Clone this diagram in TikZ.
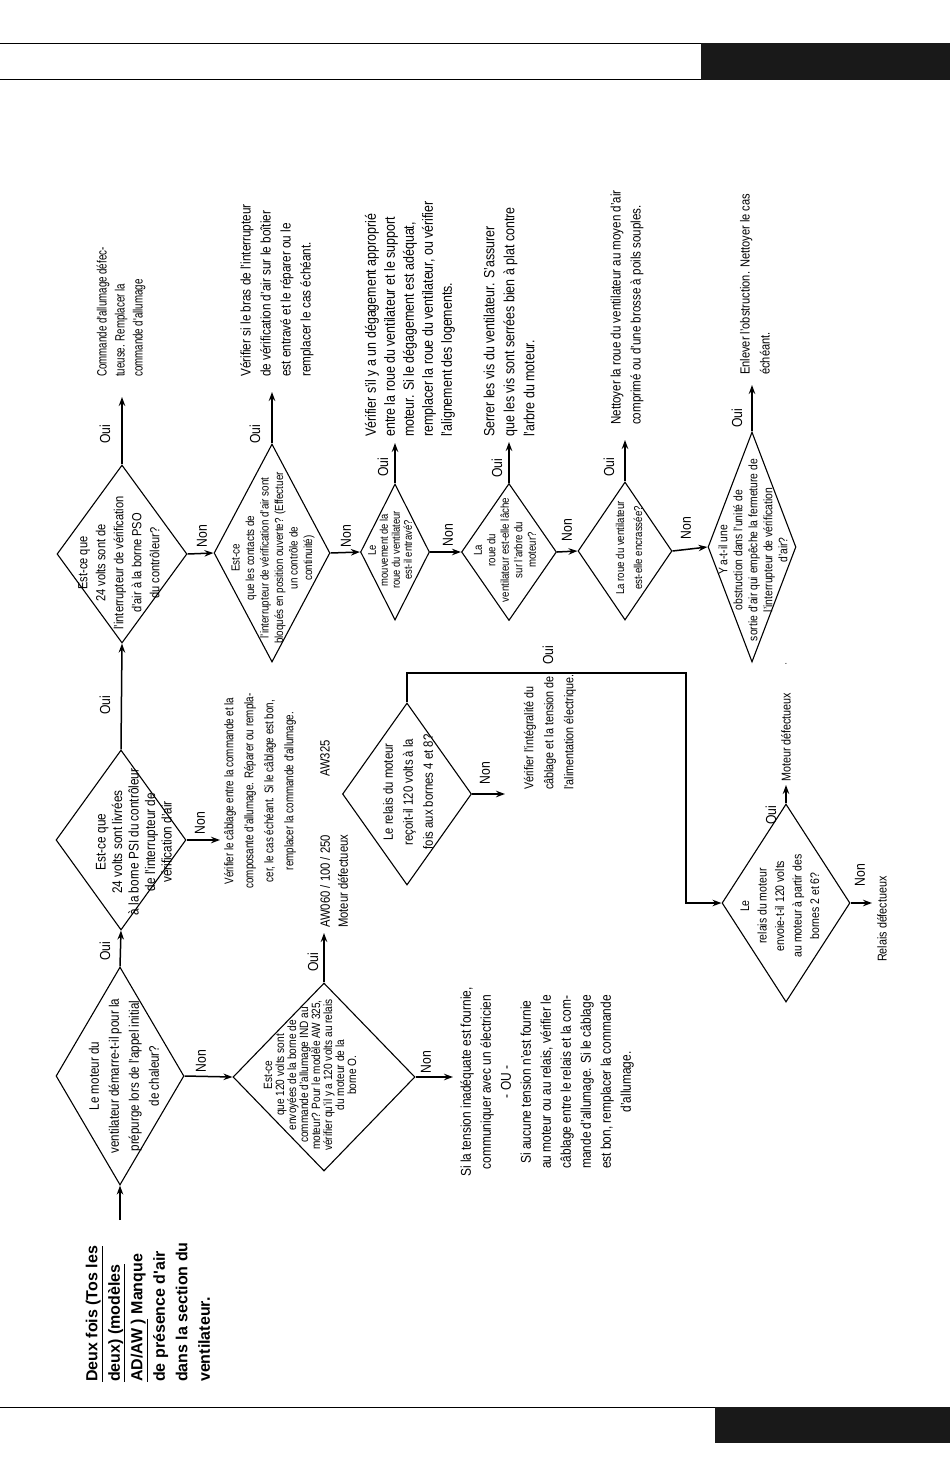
\documentclass[tikz,border=0pt]{standalone}
\usepackage{fontspec}
\setmainfont{Liberation Sans}[FakeStretch=0.84]
\newfontfamily\titlefont{Liberation Sans}
\newfontfamily\fsA{Liberation Sans}[FakeStretch=0.72]
\newfontfamily\fsB{Liberation Sans}[FakeStretch=0.78]
\usetikzlibrary{shapes.geometric,arrows.meta}
\newcommand{\fz}[2]{\fontsize{#1}{#2}\selectfont}
\begin{document}
\begin{tikzpicture}[x=1pt,y=-1pt,
  dia/.style={draw, diamond, line width=1.1pt, inner sep=0pt},
  txt/.style={rotate=90, inner sep=0pt, align=center},
  ltxt/.style={rotate=90, inner sep=0pt, align=left, anchor=west},
  lbl/.style={rotate=90, inner sep=0pt, font=\fz{14.5}{16}},
  arr/.style={line width=1.5pt, -{Stealth[length=9pt,width=6.5pt]}}]
\useasboundingbox (0,0) rectangle (950,1468);
% header / footer
\draw[line width=1pt] (0,43) -- (702,43);
\draw[line width=1pt] (0,79) -- (702,79);
\fill[black!90] (701,43) rectangle (950,80);
\draw[line width=1pt] (0,1407) -- (716,1407);
\fill[black!90] (715,1407) rectangle (950,1443);

% title
\node[ltxt, font=\titlefont\bfseries\fz{16}{22.5}] (title) at (148,1382)
 {\underline{Deux fois (Tos les}\\ \underline{deux) (modèles}\\ \underline{AD/AW )} Manque\\ de présence d'air\\ dans la section du\\ ventilateur.};

\coordinate (start) at (120,1220);

% diamonds
\node[dia, minimum width=128, minimum height=218] (d1) at (120,1076) {};
\node[dia, minimum width=130, minimum height=180] (d2) at (121,840) {};
\node[dia, minimum width=130, minimum height=178] (d3) at (122,554) {};
\node[dia, minimum width=116, minimum height=218] (d4) at (272,553) {};
\node[dia, minimum width=69, minimum height=136] (d5) at (395,552) {};
\node[dia, minimum width=95, minimum height=137] (d6) at (509,552) {};
\node[dia, minimum width=94, minimum height=138] (d7) at (625,551) {};
\node[dia, minimum width=88, minimum height=230] (d8) at (752,547) {};
\node[dia, minimum width=182, minimum height=188] (d9) at (324,1077) {};
\node[dia, minimum width=129, minimum height=182] (d10) at (407,794) {};
\node[dia, minimum width=128, minimum height=198] (d11) at (786,903) {};

% diamond texts
\node[txt, font=\fz{13.8}{20}] (d1t) at (124,1076) {Le moteur du\\ ventilateur démarre-t-il pour la\\ prépurge lors de l'appel initial\\ de chaleur?};
\node[txt, font=\fz{14}{16.5}] (d2t) at (134,842) {Est-ce que\\ 24 volts sont livrées\\ à la borne PSI du contrôleur\\ de l'interrupteur de\\ vérification d'air};
\node[txt, font=\fz{13.2}{18}] (d3t) at (119,563) {Est-ce que\\ 24 volts sont de\\ l'interrupteur de vérification\\ d'air à la borne PSO\\ du contrôleur?};
\node[txt, font=\fz{11.7}{14.5}] (d4t) at (273,558) {Est-ce\\ que les contacts de\\ l'interrupteur de vérification d'air sont\\ bloqués en position ouverte? (Effectuer\\ un contrôle de\\ continuité)};
\node[txt, font=\fz{11.2}{12}] (d5t) at (390,550) {Le\\ mouvement de la\\ roue du ventilateur\\ est-il entravé?};
\node[txt, font=\fz{11.5}{13.5}] (d6t) at (505,550) {La\\ roue du\\ ventilateur est-elle lâche\\ sur l'arbre du\\ moteur?};
\node[txt, font=\fz{11.5}{18}] (d7t) at (629,548) {La roue du ventilateur\\ est-elle encrassée?};
\node[txt, font=\fz{12.3}{15}] (d8t) at (753,550) {Y a-t-il une\\ obstruction dans l'unité de\\ sortie d'air qui empêche la fermeture de\\ l'interrupteur de vérification\\ d'air?};
\node[txt, font=\fz{12}{12}] (d9t) at (310,1075) {Est-ce\\ que 120 volts sont\\ envoyées de la borne de\\ commande d'allumage IND au\\ moteur? Pour le modèle AW 325,\\ vérifier qu'il y a 120 volts au relais\\ du moteur de la\\ borne O.};
\node[txt, font=\fz{13.5}{20}] (d10t) at (408,792) {Le relais du moteur\\ reçoit-il 120 volts à la\\ fois aux bornes 4 et 8?};
\node[txt, font=\fz{12.5}{17.5}] (d11t) at (780,906) {Le\\ relais du moteur\\ envoie-t-il 120 volts\\ au moteur à partir des\\ bornes 2 et 6?};

% action texts
\node[txt, font=\fsB\fz{12.6}{20}] (b1) at (260,791) {Vérifier le câblage entre la commande et la\\ composante d'allumage. Réparer ou rempla-\\ cer, le cas échéant. Si le câblage est bon,\\ remplacer la commande d'allumage.};
\node[ltxt, font=\fsA\fz{13.5}{18}] (b3) at (121,377) {Commande d'allumage défec-\\ tueuse. Remplacer la\\ commande d'allumage};
\node[ltxt, font=\fz{14}{20}] (b4) at (277,377) {Vérifier si le bras de l'interrupteur\\ de vérification d'air sur le boîtier\\ est entravé et le réparer ou le\\ remplacer le cas échéant.};
\node[ltxt, font=\fz{14.8}{19}] (b5) at (410,437) {Vérifier s'il y a un dégagement approprié\\ entre la roue du ventilateur et le support\\ moteur. Si le dégagement est adéquat,\\ remplacer la roue du ventilateur, ou vérifier\\ l'alignement des logements.};
\node[ltxt, font=\fz{14.8}{20}] (b6) at (509,437) {Serrer les vis du ventilateur. S'assurer\\ que les vis sont serrées bien à plat contre\\ l'arbre du moteur.};
\node[ltxt, font=\fz{13.8}{20}] (b7) at (627,425) {Nettoyer la roue du ventilateur au moyen d'air\\ comprimé ou d'une brosse à poils souples.};
\node[ltxt, font=\fz{13.2}{20}] (b8) at (755,375) {Enlever l'obstruction. Nettoyer le cas\\ échéant.};
\node[ltxt, font=\fz{13.4}{18}] (baw) at (334,928) {AW060 / 100 / 250\\ Moteur défectueux};
\node[ltxt, font=\fz{13.4}{18}] (aw325) at (325,777) {AW325};
\node[txt, font=\fz{14.2}{20}] (bsi) at (547,1082) {Si la tension inadéquate est fournie,\\ communiquer avec un électricien\\ - OU -\\ Si aucune tension n'est fournie\\ au moteur ou au relais, vérifier le\\ câblage entre le relais et la com-\\ mande d'allumage. Si le câblage\\ est bon, remplacer la commande\\ d'allumage.};
\node[ltxt, font=\fz{12.8}{20}] (bv) at (550,790) {Vérifier l'intégralité du\\ câblage et la tension de\\ l'alimentation électrique.};
\node[ltxt, font=\fz{12.8}{18}] (bmd) at (786,782) {Moteur défectueux};
\node[ltxt, font=\fz{12.8}{18}] (brd) at (882,962) {Relais défectueux};
\node[inner sep=0pt, font=\fz{10}{12}] (dot) at (786,664) {.};

% arrow tip coordinates
\coordinate (t3) at (122,397);
\coordinate (t4) at (272,392);
\coordinate (t5) at (395,443);
\coordinate (t6) at (509,442);
\coordinate (t7) at (625,440);
\coordinate (t8) at (752,385);
\coordinate (t2n) at (220,840);
\coordinate (t9o) at (324,933);
\coordinate (t9n) at (453,1077);
\coordinate (t10n) at (505,794);
\coordinate (t11o) at (786,785);
\coordinate (t11n) at (872,903);
\coordinate (k1) at (407,673);
\coordinate (k2) at (686,673);
\coordinate (k3) at (686,903);

% connectors
\draw[arr] (start) -- (d1.south);
\draw[arr] (d1.north) -- (d2.south);
\draw[arr] (d2.north) -- (d3.south);
\draw[arr] (d3.north) -- (t3);
\draw[arr] (d1.east) -- (d9.west);
\draw[arr] (d2.east) -- (t2n);
\draw[arr] (d3.east) -- (d4.west);
\draw[arr] (d4.north) -- (t4);
\draw[arr] (d4.east) -- (d5.west);
\draw[arr] (d5.north) -- (t5);
\draw[arr] (d5.east) -- (d6.west);
\draw[arr] (d6.north) -- (t6);
\draw[arr] (d6.east) -- (d7.west);
\draw[arr] (d7.north) -- (t7);
\draw[arr] (d7.east) -- (d8.west);
\draw[arr] (d8.north) -- (t8);
\draw[arr] (d9.north) -- (t9o);
\draw[arr] (d9.east) -- (t9n);
\draw[arr] (d10.east) -- (t10n);
\draw[arr] (d10.north) -- (k1) -- (k2) -- (k3) -- (d11.west);
\draw[arr] (d11.north) -- (t11o);
\draw[arr] (d11.east) -- (t11n);

% labels
\node[lbl] (o1) at (105,951) {Oui};
\node[lbl] (n1) at (201,1061) {Non};
\node[lbl] (o2) at (105,705) {Oui};
\node[lbl] (n2) at (200,823) {Non};
\node[lbl] (o3) at (105,434) {Oui};
\node[lbl] (n3) at (202,536) {Non};
\node[lbl] (o4) at (255,434) {Oui};
\node[lbl] (n4) at (346,536) {Non};
\node[lbl] (o5) at (383,467) {Oui};
\node[lbl] (n5) at (448,535) {Non};
\node[lbl] (o6) at (497,468) {Oui};
\node[lbl] (n6) at (567,530) {Non};
\node[lbl] (o7) at (609,467) {Oui};
\node[lbl] (n7) at (686,528) {Non};
\node[lbl] (o8) at (737,418) {Oui};
\node[lbl] (o9) at (313,962) {Oui};
\node[lbl] (n9) at (426,1062) {Non};
\node[lbl] (o10) at (548,655) {Oui};
\node[lbl] (n10) at (485,773) {Non};
\node[lbl] (o11) at (771,815) {Oui};
\node[lbl] (n11) at (860,875) {Non};
\end{tikzpicture}
\end{document}
